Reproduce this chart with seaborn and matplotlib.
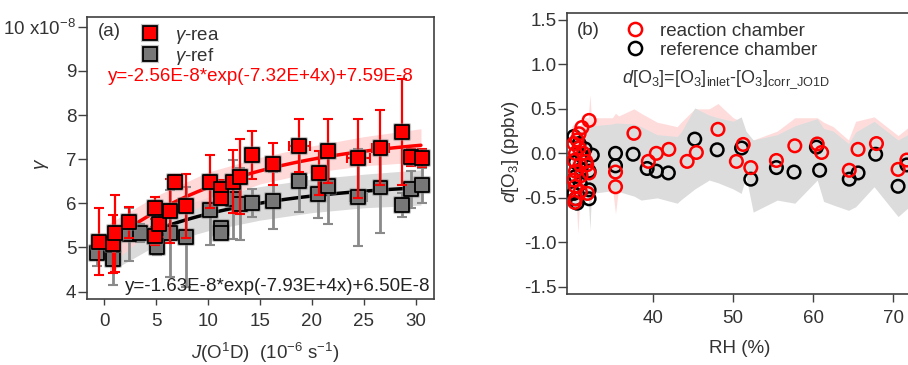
import numpy as np
import pandas as pd
import matplotlib
matplotlib.use("Agg")
import matplotlib.pyplot as plt
import matplotlib.patheffects as pe
from matplotlib.lines import Line2D
import seaborn as sns

# ---------------- Panel (a) data: gamma vs J(O1D) ----------------
j_rea = [-0.48, 0.87, 1.03, 2.41, 4.88, 4.88, 5.30, 6.33, 6.81, 7.87, 10.18, 11.24, 11.24,
         12.43, 13.07, 14.20, 16.22, 18.79, 20.71, 21.58, 24.47, 26.60, 28.65, 29.50, 30.60]
gamma_rea = [5.13, 5.08, 5.32, 5.57, 5.90, 5.26, 5.53, 5.83, 6.49, 5.94, 6.49, 6.32, 6.11,
             6.49, 6.60, 7.09, 6.89, 7.30, 6.69, 7.19, 7.02, 7.26, 7.61, 7.04, 7.02]
gamma_rea_err = [0.76, 0.65, 0.88, 0.35, 0.25, 0.20, 0.30, 0.72, 0.15, 0.72, 0.60, 0.20, 0.15,
                 0.72, 0.85, 0.55, 0.48, 0.60, 0.50, 0.72, 0.90, 0.85, 1.20, 0.20, 0.20]
j_rea_err = [0.3, 0.3, 0.3, 0.3, 0.3, 0.3, 0.3, 0.3, 0.3, 0.4, 0.5, 0.3, 0.3,
             0.4, 0.4, 0.4, 0.6, 1.0, 0.4, 0.4, 1.1, 0.8, 0.5, 0.4, 0.4]

j_ref = [-0.70, 0.87, 2.41, 3.44, 4.88, 5.05, 6.33, 7.87, 10.18, 11.24, 11.24, 12.43, 13.07,
         14.20, 16.22, 18.79, 20.62, 21.58, 24.47, 26.60, 28.65, 29.50, 30.60]
gamma_ref = [4.88, 4.73, 5.30, 5.33, 5.26, 5.02, 5.32, 5.24, 5.85, 5.45, 5.33, 6.09, 5.98,
             6.00, 6.06, 6.51, 6.21, 6.39, 6.14, 6.36, 5.96, 6.32, 6.41]
gamma_ref_err = [0.30, 0.58, 0.60, 0.20, 0.20, 0.20, 0.98, 1.13, 0.80, 0.10, 0.10, 0.90, 0.82,
                 0.32, 0.65, 0.70, 0.55, 0.86, 1.10, 1.04, 0.28, 0.42, 0.40]
j_ref_err = [0.3, 0.3, 0.3, 0.3, 0.3, 0.3, 0.3, 0.3, 0.3, 0.3, 0.3, 0.3, 0.5,
             0.3, 0.5, 0.7, 0.4, 0.3, 0.8, 0.6, 0.3, 0.3, 0.3]

# fit coefficients (y = a*exp(b*x)+c ; a, c in 1e-8 ; x in 1e-6 s^-1)
fit_rea = [-2.56, -7.32e4, 7.59]
fit_ref = [-1.63, -7.93e4, 6.50]
fit_rea_range = [1.0, 30.5]
fit_ref_range = [2.6, 30.5]

band_j = [0.5, 5, 10, 15, 20, 25, 30.5]
rea_band_hi = [5.55, 6.17, 6.71, 7.04, 7.30, 7.51, 7.69]
rea_band_lo = [4.60, 5.47, 6.01, 6.44, 6.70, 6.85, 6.94]
ref_band_hi = [5.35, 5.75, 6.14, 6.38, 6.55, 6.66, 6.76]
ref_band_lo = [4.45, 5.05, 5.38, 5.62, 5.79, 5.90, 5.96]

gamma_ticks = [4, 5, 6, 7, 8, 9, 10]
gamma_ticklabels = ["4", "5", "6", "7", "8", "9", "10 x10$^{-8}$"]
j_ticks = [0, 5, 10, 15, 20, 25, 30]

# ---------------- Panel (b) data: d[O3] vs RH ----------------
rh_rea = [32.0, 31.1, 30.75, 30.1, 30.75, 30.3, 31.3, 30.1, 30.9, 31.7, 30.3, 31.6, 30.1, 30.3,
          30.9, 30.3, 30.2, 31.8, 32.0, 30.5, 31.0,
          35.3, 35.3, 37.6, 39.4, 40.4, 41.96, 44.25, 45.4, 48.1, 50.4, 51.25, 52.2, 55.4, 57.7,
          60.5, 61.05, 64.5, 65.6, 67.9, 70.6, 71.7]
d_rea = [0.37, 0.29, 0.22, 0.11, 0.06, 0.0, 0.0, -0.08, -0.13, -0.13, -0.20, -0.09, -0.30, -0.37,
         -0.43, -0.51, -0.55, -0.45, -0.22, 0.15, -0.25,
         -0.21, -0.375, 0.225, -0.09, 0.0, 0.045, -0.09, 0.01, 0.27, -0.09, 0.10, -0.16, -0.08, 0.085,
         0.105, 0.01, -0.19, 0.045, 0.11, -0.18, -0.075]

rh_ref = [30.1, 30.75, 32.4, 31.2, 30.3, 32.0, 30.3, 32.0, 30.1, 30.3, 30.9, 32.0, 30.5, 31.5, 31.0,
          35.3, 35.3, 37.5, 39.25, 40.4, 41.9, 45.2, 48.0, 51.05, 52.2, 55.4, 57.6, 60.4, 60.8,
          64.5, 65.6, 67.8, 70.6, 71.7]
d_ref = [0.19, 0.11, -0.02, -0.04, -0.10, -0.20, -0.26, -0.41, -0.45, -0.51, -0.34, -0.51, -0.56, 0.05, -0.18,
         0.0, -0.14, -0.01, -0.17, -0.20, -0.22, 0.16, 0.04, 0.06, -0.29, -0.16, -0.21, 0.07, -0.19,
         -0.29, -0.22, -0.01, -0.37, -0.13]

band_rh = [29.8, 30.4, 30.6, 30.8, 31.5, 31.9, 32.1, 32.3, 34.9, 35.3, 35.7, 37.6, 38.5, 40.5, 43.0,
           43.5, 45.2, 47.0, 48.1, 50.0, 51.0, 51.6, 52.5, 55.5, 57.7, 60.5, 61.3, 62.5, 64.4, 65.3,
           67.6, 70.6, 72.0]
ref_hi = [0.20, 0.25, 0.22, 0.20, 0.30, 0.31, 0.32, 0.31, 0.33, 0.34, 0.34, 0.33, 0.30, 0.21, 0.19,
          0.24, 0.51, 0.43, 0.40, 0.36, 0.41, 0.25, 0.15, 0.21, 0.31, 0.39, 0.28, 0.25, 0.11, 0.24,
          0.36, 0.15, 0.22]
ref_lo = [-0.60, -0.62, -0.62, -0.60, -0.55, -0.50, -0.86, -0.45, -0.42, -0.41, -0.43, -0.48, -0.525, -0.50, -0.56,
          -0.52, -0.40, -0.30, -0.33, -0.40, -0.45, -0.26, -0.66, -0.525, -0.56, -0.30, -0.54, -0.58, -0.64, -0.60,
          -0.375, -0.71, -0.60]
rea_hi = [0.30, 0.35, 0.32, 0.30, 0.40, 0.40, 0.66, 0.40, 0.40, 0.45, 0.42, 0.50, 0.45, 0.35, 0.30,
          0.35, 0.50, 0.50, 0.56, 0.40, 0.36, 0.20, 0.15, 0.25, 0.40, 0.40, 0.35, 0.30, 0.15, 0.36,
          0.41, 0.20, 0.30]
rea_lo = [-0.55, -0.56, -0.90, -0.56, -0.50, -0.45, -0.78, -0.40, -0.38, -0.68, -0.38, -0.40, -0.45, -0.40, -0.46,
          -0.42, -0.30, -0.20, -0.23, -0.30, -0.35, -0.16, -0.56, -0.42, -0.46, -0.20, -0.44, -0.48, -0.54, -0.50,
          -0.28, -0.61, -0.50]

d_ticks = [-1.5, -1.0, -0.5, 0.0, 0.5, 1.0, 1.5]
d_ticklabels = ["-1.5", "-1.0", "-0.5", "0.0", "0.5", "1.0", "1.5"]
rh_ticks = [40, 50, 60, 70]

# ---------------- Style ----------------
sns.set_theme(style="ticks")
plt.rcParams["font.family"] = ["Liberation Sans", "DejaVu Sans"]
plt.rcParams["mathtext.fontset"] = "custom"
plt.rcParams["mathtext.rm"] = "Liberation Sans"
plt.rcParams["mathtext.it"] = "Liberation Sans:italic"
plt.rcParams["mathtext.bf"] = "Liberation Sans:bold"
plt.rcParams["mathtext.sf"] = "Liberation Sans"
plt.rcParams["axes.unicode_minus"] = False

TXT = "#333333"
SPINE = "#404040"
FS = 13.5

fig = plt.figure(figsize=(9.08, 3.65), dpi=100)
axa = fig.add_axes([0.0955, 0.1816, 0.3825, 0.7718])
axb = fig.add_axes([0.6241, 0.1945, 0.3759, 0.7707])

shadow = [pe.Stroke(linewidth=3.0, foreground=(0.5, 0.5, 0.5, 0.45)), pe.Normal()]

# ---------- Panel (a) ----------
axa.fill_between(band_j, ref_band_lo, ref_band_hi, color="#d6d6d6", alpha=0.9, lw=0, zorder=1)
axa.fill_between(band_j, rea_band_lo, rea_band_hi, color="#ffcfcf", alpha=0.8, lw=0, zorder=1.1)

xf_ref = np.linspace(fit_ref_range[0], fit_ref_range[1], 150)
yf_ref = fit_ref[0] * np.exp(fit_ref[1] * 1e-6 * xf_ref) + fit_ref[2]
xf_rea = np.linspace(fit_rea_range[0], fit_rea_range[1], 150)
yf_rea = fit_rea[0] * np.exp(fit_rea[1] * 1e-6 * xf_rea) + fit_rea[2]
sns.lineplot(x=xf_ref, y=yf_ref, color="black", lw=2.5, sort=False, estimator=None, ax=axa, zorder=2)
sns.lineplot(x=xf_rea, y=yf_rea, color="red", lw=2.5, sort=False, estimator=None, ax=axa, zorder=2)

df_ref = pd.DataFrame({"J": j_ref, "g": gamma_ref})
df_rea = pd.DataFrame({"J": j_rea, "g": gamma_rea})

axa.errorbar(j_ref, gamma_ref, yerr=gamma_ref_err, xerr=j_ref_err, fmt="none",
             ecolor="#8a8a8a", elinewidth=2.0, capsize=3.5, capthick=1.5, zorder=3)
sns.scatterplot(data=df_ref, x="J", y="g", marker="s", s=100, color="#777777",
                edgecolor="black", linewidth=1.3, ax=axa, zorder=4, legend=False,
                path_effects=shadow)
axa.errorbar(j_rea, gamma_rea, yerr=gamma_rea_err, xerr=j_rea_err, fmt="none",
             ecolor="red", elinewidth=1.6, capsize=3.5, capthick=1.5, zorder=5)
sns.scatterplot(data=df_rea, x="J", y="g", marker="s", s=100, color="red",
                edgecolor="black", linewidth=1.3, ax=axa, zorder=6, legend=False,
                path_effects=shadow)

axa.set_xlim(-1.70, 31.76)
axa.set_ylim(3.84, 10.22)
axa.set_xticks(j_ticks)
axa.set_xticklabels([str(t) for t in j_ticks])
axa.set_yticks(gamma_ticks)
axa.set_yticklabels(gamma_ticklabels)
axa.tick_params(axis="y", direction="out", length=6.5, width=1.0, pad=1, labelsize=FS,
                colors=SPINE, labelcolor=TXT)
axa.tick_params(axis="x", direction="out", length=4.5, width=1.0, pad=6, labelsize=FS,
                colors=SPINE, labelcolor=TXT)
for s in axa.spines.values():
    s.set_color(SPINE)
    s.set_linewidth(1.2)
    s.set_visible(True)

axa.set_ylabel("γ", fontsize=FS, fontstyle="italic", color=TXT)
axa.yaxis.set_label_coords(-0.112, 0.48)
axa.set_xlabel(r"$\mathit{J}$(O$^1$D)  (10$^{-6}$ s$^{-1}$)", fontsize=FS, color=TXT)
axa.xaxis.set_label_coords(0.513, -0.148)

axa.text(0.0325, 0.947, "(a)", transform=axa.transAxes, fontsize=FS, color=TXT,
         ha="left", va="center")
axa.text(0.0613, 0.789, "y=-2.56E-8*exp(-7.32E+4x)+7.59E-8", transform=axa.transAxes,
         fontsize=FS, color="red", ha="left", va="center")
axa.text(0.9885, 0.0426, "y=-1.63E-8*exp(-7.93E+4x)+6.50E-8", transform=axa.transAxes,
         fontsize=FS, color="#222222", ha="right", va="center")

h_rea = Line2D([], [], marker="s", ls="none", markerfacecolor="red", markeredgecolor="black",
               markersize=10, markeredgewidth=1.3, path_effects=shadow)
h_ref = Line2D([], [], marker="s", ls="none", markerfacecolor="#777777", markeredgecolor="black",
               markersize=10, markeredgewidth=1.3, path_effects=shadow)
leg_a = axa.legend([h_rea, h_ref], [r"$\mathit{\gamma}$-rea", r"$\mathit{\gamma}$-ref"],
                   loc="upper left", bbox_to_anchor=(0.156, 0.965), frameon=False,
                   fontsize=FS, handlelength=1.0, handletextpad=0.8, borderpad=0,
                   borderaxespad=0, labelspacing=0.0)
for t in leg_a.get_texts():
    t.set_color(TXT)

# ---------- Panel (b) ----------
axb.fill_between(band_rh, rea_lo, rea_hi, color="#ffdcdc", lw=0, zorder=1)
axb.fill_between(band_rh, ref_lo, ref_hi, color="#dcdcdc", lw=0, zorder=1.1)

df_bref = pd.DataFrame({"RH": rh_ref, "d": d_ref})
df_brea = pd.DataFrame({"RH": rh_rea, "d": d_rea})
sns.scatterplot(data=df_bref, x="RH", y="d", marker="o", s=82, facecolor="none",
                edgecolor="black", linewidth=1.8, ax=axb, zorder=3, legend=False)
sns.scatterplot(data=df_brea, x="RH", y="d", marker="o", s=82, facecolor="none",
                edgecolor="red", linewidth=1.8, ax=axb, zorder=4, legend=False)

axb.set_xlim(29.2, 71.84)
axb.set_ylim(-1.58, 1.58)
axb.set_xticks(rh_ticks)
axb.set_xticklabels([str(t) for t in rh_ticks])
axb.set_yticks(d_ticks)
axb.set_yticklabels(d_ticklabels)
axb.tick_params(axis="y", direction="out", length=6.5, width=1.0, pad=1, labelsize=FS,
                colors=SPINE, labelcolor=TXT)
axb.tick_params(axis="x", direction="out", length=5.5, width=1.0, pad=6, labelsize=FS,
                colors=SPINE, labelcolor=TXT)
for name, s in axb.spines.items():
    s.set_color(SPINE)
    s.set_linewidth(1.2)
    s.set_visible(name != "right")

axb.set_ylabel(r"$\mathit{d}$[O$_3$] (ppbv)", fontsize=FS, color=TXT)
axb.yaxis.set_label_coords(-0.134, 0.505)
axb.set_xlabel("RH (%)", fontsize=FS, color=TXT)
axb.xaxis.set_label_coords(0.508, -0.165)

axb.text(0.030, 0.9385, "(b)", transform=axb.transAxes, fontsize=FS, color=TXT,
         ha="left", va="center")
axb.text(0.161, 0.76,
         r"$\mathit{d}$[O$_3$]=[O$_3$]$_{\mathrm{inlet}}$-[O$_3$]$_{\mathrm{corr\_J O1D}}$",
         transform=axb.transAxes, fontsize=13, color=TXT, ha="left", va="center")

hb_rea = Line2D([], [], marker="o", ls="none", markerfacecolor="none", markeredgecolor="red",
                markersize=9.5, markeredgewidth=1.8)
hb_ref = Line2D([], [], marker="o", ls="none", markerfacecolor="none", markeredgecolor="black",
                markersize=9.5, markeredgewidth=1.8)
leg_b = axb.legend([hb_rea, hb_ref], ["reaction chamber", "reference chamber"],
                   loc="upper left", bbox_to_anchor=(0.174, 0.965), frameon=False,
                   fontsize=FS, handlelength=1.0, handletextpad=0.8, borderpad=0,
                   borderaxespad=0, labelspacing=0.12)
for t in leg_b.get_texts():
    t.set_color(TXT)

fig.savefig("out.png", dpi=100)
